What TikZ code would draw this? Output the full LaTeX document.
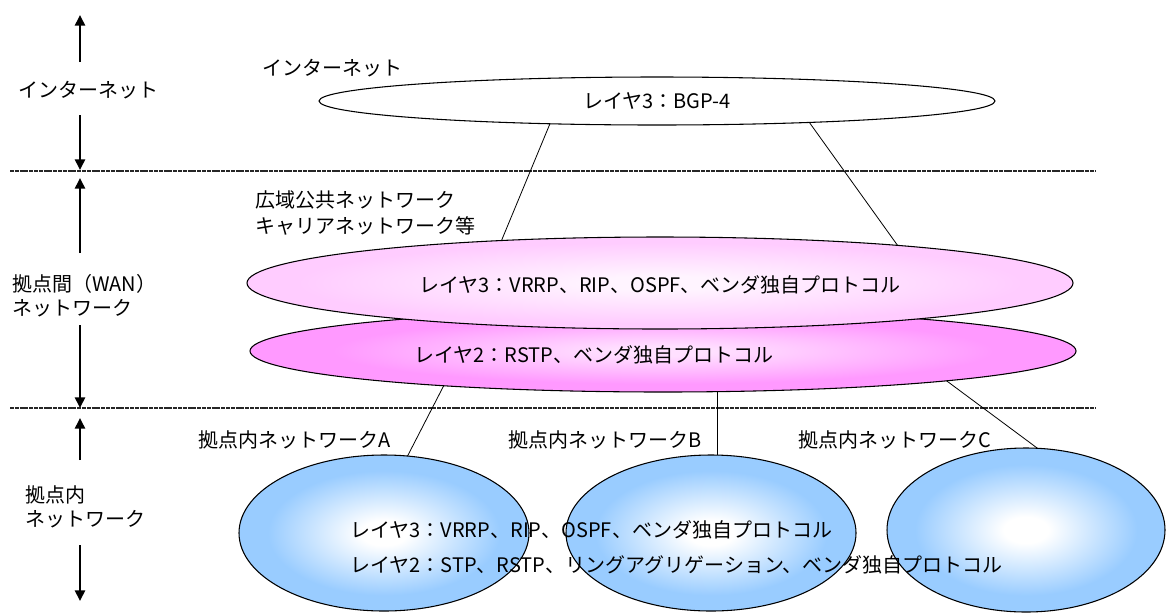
\documentclass[tikz,border=0pt]{standalone}
\usepackage{fontspec}
\setmainfont{Noto Sans CJK JP}
\usetikzlibrary{shapes.geometric,arrows.meta}
\definecolor{pinkA}{HTML}{FFCCFF}
\definecolor{pinkAin}{HTML}{FFF4FF}
\definecolor{pinkB}{HTML}{FF99FF}
\definecolor{pinkBin}{HTML}{FFE0FF}
\definecolor{blueC}{HTML}{99CCFF}
\pgfdeclareradialshading{shPinkA}{\pgfpoint{0bp}{0bp}}{color(0bp)=(pinkAin); color(4bp)=(pinkAin); color(22bp)=(pinkA); color(50bp)=(pinkA)}
\pgfdeclareradialshading{shPinkB}{\pgfpoint{0bp}{0bp}}{color(0bp)=(pinkBin); color(3bp)=(pinkBin); color(20bp)=(pinkB); color(50bp)=(pinkB)}
\pgfdeclareradialshading{shBlue}{\pgfpoint{0bp}{0bp}}{color(0bp)=(white); color(4bp)=(white); color(20bp)=(blueC); color(50bp)=(blueC)}
\begin{document}
\begin{tikzpicture}[x=0.75pt,y=-0.75pt,
  font=\fontsize{15}{18}\selectfont,
  ell/.style={ellipse, draw=black, line width=0.8pt, inner sep=0pt, outer sep=0pt},
  conn/.style={draw=black, line width=0.6pt},
  sep/.style={draw=black!85, line width=0.9pt, dash pattern=on 3pt off 0.6pt},
  arr/.style={draw=black, line width=1.9pt, -{Triangle[width=7.5pt,length=8pt]}},
  lbl/.style={inner sep=0pt, anchor=west}]
\useasboundingbox[fill=white] (0,0) rectangle (1166,615);

% separators
\coordinate (s1l) at (10,171); \coordinate (s1r) at (1096,171);
\coordinate (s2l) at (10,408); \coordinate (s2r) at (1096,408);
\draw[sep] (s1l) -- (s1r);
\draw[sep] (s2l) -- (s2r);

% left column labels and arrows
\node[inner sep=0pt] (lInet) at (88,90) {インターネット};
\node[inner sep=0pt, align=left, anchor=west] (lWan) at (12,296) {拠点間（WAN）\\ネットワーク};
\node[inner sep=0pt, align=left, anchor=west] (lSite) at (25,507) {拠点内\\ネットワーク};
\coordinate (a1a) at (80,62);  \coordinate (a1t) at (80,15);
\coordinate (a1b) at (80,115); \coordinate (a1u) at (80,170);
\coordinate (a2a) at (80,253); \coordinate (a2t) at (80,178);
\coordinate (a2b) at (80,325); \coordinate (a2u) at (80,408);
\coordinate (a3a) at (80,460); \coordinate (a3t) at (80,418);
\coordinate (a3b) at (80,545); \coordinate (a3u) at (80,601);
\draw[arr] (a1a) -- (a1t);
\draw[arr] (a1b) -- (a1u);
\draw[arr] (a2a) -- (a2t);
\draw[arr] (a2b) -- (a2u);
\draw[arr] (a3a) -- (a3t);
\draw[arr] (a3b) -- (a3u);

% internet
\node[lbl] (tInet) at (262,68) {インターネット};
\node[ell, fill=white, minimum width=507pt, minimum height=36pt] (inet) at (657,101) {レイヤ3：BGP-4};

% WAN
\node[lbl] (tWan1) at (255,200) {広域公共ネットワーク};
\node[lbl] (tWan2) at (255,226) {キャリアネットワーク等};
\node[ell, shading=shPinkB, minimum width=619.5pt, minimum height=61.5pt] (wan2) at (663,351) {};
\node[ell, shading=shPinkA, minimum width=619.5pt, minimum height=69pt] (wan3) at (660,283) {};
\node[inner sep=0pt] (wan3t) at (660,285) {レイヤ3：VRRP、RIP、OSPF、ベンダ独自プロトコル};
\node[inner sep=0pt, anchor=west] (wan2t) at (414,355) {レイヤ2：RSTP、ベンダ独自プロトコル};

\draw[conn] (inet.192.9) -- (wan3.165.9);
\draw[conn] (inet.352.7) -- (wan3.9.4);

% sites
\node[ell, shading=shBlue, minimum width=217.5pt, minimum height=117pt] (siteA) at (384,533) {};
\node[ell, shading=shBlue, minimum width=217.5pt, minimum height=117pt] (siteB) at (711,533) {};
\node[ell, shading=shBlue, minimum width=208.5pt, minimum height=123pt] (siteC) at (1026,530) {};

\node[lbl] (tA) at (198,440) {拠点内ネットワークA};
\node[lbl] (tB) at (508,440) {拠点内ネットワークB};
\node[lbl] (tC) at (798,440) {拠点内ネットワークC};

\coordinate (bx) at (717,0);
\draw[conn] (wan2.189.9) -- (siteA.73);
\draw[conn] (wan2.south -| bx) -- (siteB.north -| bx);
\draw[conn] (wan2.354.5) -- (siteC.82.4);

\node[lbl] (site3) at (350,530) {レイヤ3：VRRP、RIP、OSPF、ベンダ独自プロトコル};
\node[lbl] (site2) at (350,565) {レイヤ2：STP、RSTP、リングアグリゲーション、ベンダ独自プロトコル};
\end{tikzpicture}
\end{document}
